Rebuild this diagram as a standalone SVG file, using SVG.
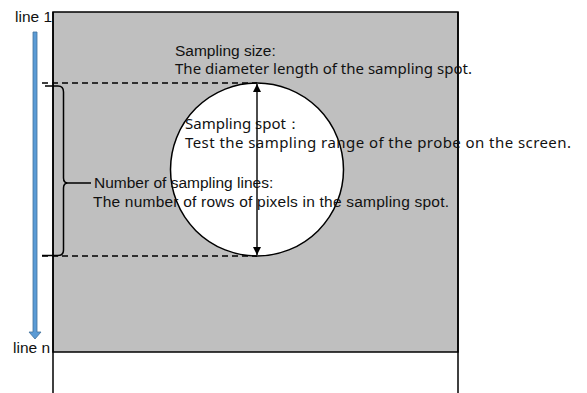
<svg xmlns="http://www.w3.org/2000/svg" width="587" height="393" viewBox="0 0 587 393">
<style>
.ar{font-family:"Liberation Sans",Arial,sans-serif;font-size:15.5px;fill:#111}
.yh{font-family:"Noto Sans","Open Sans",sans-serif;font-size:15px;fill:#111}
.ln{stroke:#000;stroke-width:1.5;fill:none}
.dash{stroke:#000;stroke-width:1.4;stroke-dasharray:6 4;fill:none}
</style>
<defs>
<marker id="ah" viewBox="0 0 10 10" refX="10" refY="5" markerWidth="8" markerHeight="9" markerUnits="userSpaceOnUse" orient="auto-start-reverse">
<path d="M0,0 L10,5 L0,10 z" fill="#000"/>
</marker>
</defs>
<g id="screen">
<rect x="53" y="12" width="405" height="340" fill="#BFBFBF" stroke="#000" stroke-width="1.5"/>
<line class="ln" x1="53" y1="12" x2="53" y2="393"/>
<line class="ln" x1="458" y1="12" x2="458" y2="393"/>
</g>
<g id="spot">
<circle cx="257" cy="169.5" r="86.5" fill="#fff" stroke="#000" stroke-width="1.5"/>
</g>
<g id="connectors">
<line class="dash" x1="42" y1="83" x2="257" y2="83"/>
<line class="dash" x1="42" y1="256" x2="257" y2="256"/>
<line stroke="#000" stroke-width="1.4" x1="257" y1="84" x2="257" y2="255" marker-start="url(#ah)" marker-end="url(#ah)"/>
<path class="ln" stroke-width="2" d="M45,86 L58,86 Q63.5,86 63.5,92 L63.5,178 Q63.5,183 68,183 L91,183 M68,183 Q63.5,183 63.5,188 L63.5,250 Q63.5,255.5 58,255.5 L42,255.5"/>
<path d="M33,32 L37,32 L37,332 L41,332 L35,339 L29,332 L33,332 z" fill="#5B9BD5" stroke="#41719C" stroke-width="0.8"/>
</g>
<g id="labels">
<text class="ar" x="15" y="22" font-size="14">line 1</text>
<text class="ar" x="13" y="353" font-size="14">line n</text>
<text class="ar" x="175" y="56">Sampling size:</text>
<text class="yh" x="175" y="74" textLength="297">The diameter length of the sampling spot.</text>
<text class="yh" x="185" y="129">Sampling spot：</text>
<text class="yh" x="185" y="148" textLength="386">Test the sampling range of the probe on the screen.</text>
<text class="ar" x="94" y="188">Number of sampling lines:</text>
<text class="ar" x="93" y="207" textLength="356">The number of rows of pixels in the sampling spot.</text>
</g>
</svg>
